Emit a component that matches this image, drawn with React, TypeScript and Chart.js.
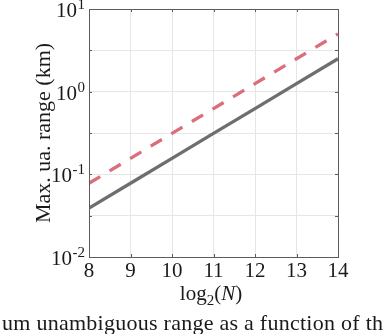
import React, { useEffect, useRef } from "react";
import { Chart, registerables } from "chart.js";

Chart.register(...registerables);

// ---- data ----
const log2N = [8, 9, 10, 11, 12, 13, 14];
const rangeSolid = [0.039, 0.078, 0.156, 0.3125, 0.625, 1.25, 2.5];
const rangeDashed = [0.078, 0.156, 0.3125, 0.625, 1.25, 2.5, 5.0];
const xTickValues = [8, 9, 10, 11, 12, 13, 14];
const yLabelExponents = [-2, -1, 0, 1];
const yGridExponents = [-2, -1.5, -1, -0.5, 0, 0.5, 1];
const yTitle = "Max. ua. range (km)";
const caption = "um unambiguous range as a function of th";

const FONT = '"Liberation Serif", "Times New Roman", serif';
const AXIS_COLOR = "#5c5c5c";
const GRID_COLOR = "#e6e6e6";

const textPlugin = {
  id: "matlabText",
  afterDraw(chart: any) {
    const { ctx, chartArea } = chart;
    const { left, right, top, bottom } = chartArea;
    const xs = chart.scales.x;
    const ys = chart.scales.y;
    ctx.save();

    // box
    ctx.strokeStyle = AXIS_COLOR;
    ctx.lineWidth = 1;
    ctx.strokeRect(Math.round(left) + 0.5, Math.round(top) + 0.5, Math.round(right - left), Math.round(bottom - top));

    // inner tick marks
    const tl = 3;
    ctx.beginPath();
    for (const v of xTickValues) {
      const px = Math.round(xs.getPixelForValue(v)) + 0.5;
      ctx.moveTo(px, bottom);
      ctx.lineTo(px, bottom - tl);
      ctx.moveTo(px, top);
      ctx.lineTo(px, top + tl);
    }
    for (const e of yGridExponents) {
      const py = Math.round(ys.getPixelForValue(Math.pow(10, e))) + 0.5;
      ctx.moveTo(left, py);
      ctx.lineTo(left + tl, py);
      ctx.moveTo(right, py);
      ctx.lineTo(right - tl, py);
    }
    ctx.stroke();

    ctx.fillStyle = "#1a1a1a";
    ctx.textBaseline = "alphabetic";

    // y tick labels with superscripts
    const R = 85;
    for (const e of yLabelExponents) {
      const py = ys.getPixelForValue(Math.pow(10, e));
      ctx.font = `21px ${FONT}`;
      const wb = ctx.measureText("10").width;
      ctx.font = `15px ${FONT}`;
      const es = String(e);
      const we = ctx.measureText(es).width;
      const x0 = R - we - wb - 0.5;
      ctx.textAlign = "left";
      ctx.font = `21px ${FONT}`;
      ctx.fillText("10", x0, py + 8);
      ctx.font = `15px ${FONT}`;
      ctx.fillText(es, x0 + wb + 0.5, py);
    }

    // x tick labels
    ctx.font = `21px ${FONT}`;
    ctx.textAlign = "center";
    for (const v of xTickValues) {
      ctx.fillText(String(v), xs.getPixelForValue(v), 277);
    }

    // x title: log2(N)
    const parts = [
      { t: "log", f: `21px ${FONT}`, dy: 0 },
      { t: "2", f: `15px ${FONT}`, dy: 5 },
      { t: "(", f: `21px ${FONT}`, dy: 0 },
      { t: "N", f: `italic 21px ${FONT}`, dy: 0 },
      { t: ")", f: `21px ${FONT}`, dy: 0 },
    ];
    let tw = 0;
    for (const p of parts) {
      ctx.font = p.f;
      tw += ctx.measureText(p.t).width;
    }
    let cx = 211 - tw / 2;
    ctx.textAlign = "left";
    for (const p of parts) {
      ctx.font = p.f;
      ctx.fillText(p.t, cx, 300 + p.dy);
      cx += ctx.measureText(p.t).width;
    }

    // y title (rotated)
    ctx.save();
    ctx.translate(50, (top + bottom) / 2);
    ctx.rotate(-Math.PI / 2);
    ctx.font = `22px ${FONT}`;
    ctx.textAlign = "center";
    ctx.fillText(yTitle, 0, 0);
    ctx.restore();

    // caption (cropped)
    ctx.font = `22px ${FONT}`;
    const cw = ctx.measureText(caption).width;
    const ls = (381 - cw) / (caption.length - 1);
    (ctx as any).letterSpacing = `${ls}px`;
    ctx.textAlign = "left";
    ctx.fillText(caption, 2, 330);
    (ctx as any).letterSpacing = "0px";

    ctx.restore();
  },
};

export default function App() {
  const ref = useRef<HTMLCanvasElement | null>(null);

  useEffect(() => {
    if (!ref.current) return;
    const chart = new Chart(ref.current, {
      type: "line",
      data: {
        datasets: [
          {
            label: "dashed",
            data: log2N.map((x, i) => ({ x, y: rangeDashed[i] })),
            borderColor: "#da6f7b",
            borderWidth: 3.3,
            borderDash: [13, 11],
            pointRadius: 0,
            fill: false,
            tension: 0,
          },
          {
            label: "solid",
            data: log2N.map((x, i) => ({ x, y: rangeSolid[i] })),
            borderColor: "#6e6e6e",
            borderWidth: 3.3,
            pointRadius: 0,
            fill: false,
            tension: 0,
          },
        ],
      },
      options: {
        animation: false,
        responsive: false,
        events: [],
        layout: { padding: { left: 89, top: 9, right: 46, bottom: 77 }, autoPadding: false } as any,
        plugins: { legend: { display: false }, tooltip: { enabled: false }, title: { display: false } },
        scales: {
          x: {
            type: "linear",
            min: 8,
            max: 14,
            afterBuildTicks: (s: any) => {
              s.ticks = xTickValues.map((v) => ({ value: v }));
            },
            ticks: { display: false },
            grid: { color: GRID_COLOR, drawTicks: false, lineWidth: 1 },
            border: { display: false },
          },
          y: {
            type: "logarithmic",
            min: 0.01,
            max: 10,
            afterBuildTicks: (s: any) => {
              s.ticks = yGridExponents.map((e) => ({ value: Math.pow(10, e) }));
            },
            ticks: { display: false },
            grid: { color: GRID_COLOR, drawTicks: false, lineWidth: 1 },
            border: { display: false },
          },
        },
      },
      plugins: [textPlugin],
    });
    return () => chart.destroy();
  }, []);

  return (
    <div style={{ position: "absolute", left: 0, top: 0, width: 384, height: 334, background: "#fff" }}>
      <canvas ref={ref} width={384} height={334} />
    </div>
  );
}
